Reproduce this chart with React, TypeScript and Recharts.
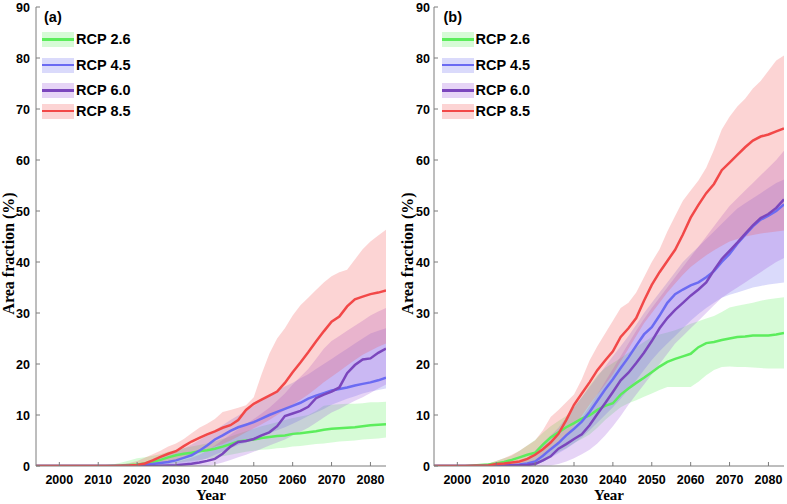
import React from "react";
import { ComposedChart, Area, Line, XAxis, YAxis } from "recharts";

// x positions shared by every series (years)
const years = [
  1994, 2002, 2008, 2010, 2012, 2014, 2016, 2018, 2020, 2022,
  2024, 2026, 2028, 2030, 2032, 2034, 2036, 2038, 2040, 2042,
  2044, 2046, 2048, 2050, 2052, 2054, 2056, 2058, 2060, 2062,
  2064, 2066, 2068, 2070, 2072, 2074, 2076, 2078, 2080, 2082,
  2084,
];
const yearTicks = [2000, 2010, 2020, 2030, 2040, 2050, 2060, 2070, 2080];
const fracTicks = [0, 10, 20, 30, 40, 50, 60, 70, 80, 90];

// ---- panel (a) ----
const a26 = [0, 0, 0, 0, 0, 0.05, 0.1, 0.2, 0.3, 0.5, 0.8, 1.2, 1.7, 2.1, 2.4, 2.6, 2.9, 3.1, 3.4, 3.8, 4.3, 4.8, 5.0, 5.2, 5.5, 5.7, 5.9, 6.0, 6.3, 6.4, 6.6, 6.8, 7.1, 7.3, 7.4, 7.5, 7.6, 7.8, 8.0, 8.1, 8.2];
const a26Lo = [0, 0, 0, 0, 0, 0, 0, 0, 0, 0, 0.1, 0.2, 0.4, 0.6, 0.8, 1.0, 1.2, 1.4, 1.6, 1.9, 2.2, 2.5, 2.8, 3.0, 3.2, 3.3, 3.5, 3.6, 3.8, 3.9, 4.1, 4.3, 4.4, 4.6, 4.8, 4.9, 5.0, 5.2, 5.3, 5.4, 5.6];
const a26Hi = [0, 0, 0, 0.1, 0.2, 0.35, 0.7, 1.1, 1.5, 1.7, 2.0, 2.3, 2.8, 3.2, 3.5, 3.8, 4.1, 4.4, 4.8, 5.3, 5.8, 6.3, 6.8, 7.3, 7.8, 8.2, 8.6, 9.0, 9.4, 9.7, 10.0, 10.8, 11.8, 12.0, 12.1, 12.2, 12.2, 12.3, 12.5, 12.5, 12.6];

const a45 = [0, 0, 0, 0, 0, 0, 0, 0.05, 0.1, 0.2, 0.4, 0.6, 0.8, 1.1, 1.6, 2.1, 3.0, 4.0, 5.2, 6.0, 6.9, 7.6, 8.1, 8.6, 9.3, 10.0, 10.6, 11.2, 11.8, 12.4, 13.2, 13.8, 14.3, 14.8, 15.1, 15.4, 15.8, 16.1, 16.4, 16.8, 17.3];
const a45Lo = [0, 0, 0, 0, 0, 0, 0, 0, 0, 0, 0, 0, 0.05, 0.2, 0.4, 0.6, 1.0, 1.5, 2.2, 2.8, 3.5, 4.1, 4.6, 5.2, 5.8, 6.4, 7.0, 7.6, 8.3, 9.0, 9.8, 10.5, 11.2, 12.0, 12.6, 13.2, 13.7, 14.2, 14.6, 14.9, 15.2];
const a45Hi = [0, 0, 0, 0, 0, 0.05, 0.1, 0.2, 0.3, 0.7, 1.2, 1.7, 2.2, 2.8, 3.5, 4.2, 5.1, 6.0, 7.0, 8.0, 9.0, 9.9, 10.8, 11.8, 12.8, 13.8, 14.8, 15.6, 16.3, 17.2, 18.0, 19.0, 20.0, 21.0, 22.0, 23.0, 24.0, 25.0, 26.0, 26.5, 27.0];

const a60 = [0, 0, 0, 0, 0, 0, 0, 0, 0, 0, 0, 0.05, 0.1, 0.15, 0.3, 0.45, 0.7, 1.0, 1.4, 2.4, 3.8, 4.7, 4.9, 5.3, 6.0, 6.6, 7.8, 9.8, 10.3, 10.8, 11.6, 13.3, 14.0, 14.6, 15.4, 18.2, 19.8, 20.9, 21.1, 22.2, 23.0];
const a60Lo = [0, 0, 0, 0, 0, 0, 0, 0, 0, 0, 0, 0, 0, 0, 0, 0, 0, 0, 0.3, 0.7, 1.2, 1.7, 2.2, 2.8, 3.4, 4.0, 4.6, 5.2, 6.0, 6.7, 7.5, 8.5, 9.5, 10.5, 11.2, 12.0, 12.8, 13.5, 14.3, 15.2, 16.0];
const a60Hi = [0, 0, 0, 0, 0, 0, 0, 0, 0, 0.1, 0.2, 0.35, 0.55, 0.8, 1.2, 1.6, 2.2, 3.0, 4.0, 5.1, 6.2, 7.2, 8.2, 9.2, 10.3, 11.4, 12.8, 14.2, 16.0, 17.5, 19.0, 21.0, 23.0, 24.5, 25.5, 26.5, 27.5, 28.5, 29.5, 30.3, 31.0];

const a85 = [0, 0, 0, 0, 0, 0, 0.05, 0.1, 0.2, 0.5, 1.1, 1.8, 2.4, 2.9, 3.9, 4.8, 5.5, 6.2, 6.8, 7.5, 8.0, 9.0, 11.0, 12.2, 13.0, 13.8, 14.6, 16.3, 18.4, 20.3, 22.3, 24.4, 26.4, 28.3, 29.3, 31.3, 32.7, 33.2, 33.7, 34.0, 34.4];
const a85Lo = [0, 0, 0, 0, 0, 0, 0, 0, 0, 0.1, 0.3, 0.6, 0.9, 1.2, 1.6, 2.0, 2.6, 3.2, 3.8, 4.3, 5.0, 5.8, 6.6, 7.4, 8.2, 9.0, 10.0, 11.0, 12.0, 13.0, 14.0, 15.2, 16.4, 17.5, 18.6, 19.7, 20.8, 21.8, 22.6, 23.4, 24.0];
const a85Hi = [0, 0, 0, 0.05, 0.1, 0.2, 0.35, 0.6, 1.0, 1.6, 2.3, 3.0, 3.8, 4.4, 5.3, 6.4, 7.5, 8.3, 9.2, 10.6, 11.0, 11.4, 11.9, 13.5, 18.0, 22.0, 25.0, 27.0, 29.5, 31.5, 33.0, 34.5, 36.0, 37.2, 38.0, 38.5, 40.5, 42.5, 44.0, 45.2, 46.3];

// ---- panel (b) ----
const b26 = [0, 0, 0.3, 0.5, 0.8, 1.2, 1.7, 2.2, 2.6, 4.2, 5.6, 6.6, 7.6, 8.4, 9.3, 9.9, 11.0, 11.8, 12.3, 14.0, 15.2, 16.3, 17.3, 18.4, 19.5, 20.4, 21.0, 21.5, 22.0, 23.3, 24.1, 24.3, 24.7, 25.0, 25.3, 25.4, 25.6, 25.6, 25.6, 25.8, 26.1];
const b26Lo = [0, 0, 0, 0, 0, 0, 0, 0.1, 0.3, 0.8, 1.8, 2.8, 3.5, 4.5, 5.3, 6.2, 7.5, 9.0, 10.3, 11.5, 12.3, 12.9, 13.6, 14.2, 14.9, 15.5, 15.5, 15.5, 15.5, 16.5, 17.8, 18.8, 19.4, 19.5, 19.4, 19.4, 19.3, 19.2, 19.1, 19.1, 19.1];
const b26Hi = [0, 0, 0.5, 1.0, 1.5, 2.0, 3.0, 4.0, 5.1, 6.5, 7.8, 8.8, 9.8, 11.5, 13.5, 15.8, 17.8, 19.2, 20.2, 21.2, 22.2, 23.3, 24.3, 25.3, 25.8, 26.2, 26.6, 27.2, 27.9, 28.4, 28.9, 29.4, 30.2, 31.1, 31.4, 31.7, 32.0, 32.4, 32.7, 32.9, 33.1];

const b45 = [0, 0, 0, 0.05, 0.1, 0.2, 0.3, 0.5, 0.9, 2.0, 3.3, 4.5, 6.0, 7.3, 8.7, 10.6, 12.8, 15.0, 17.0, 19.2, 21.3, 23.6, 25.8, 27.2, 29.5, 32.0, 33.7, 34.6, 35.4, 36.0, 37.0, 38.2, 40.0, 41.6, 43.6, 45.3, 47.0, 48.3, 49.1, 50.0, 51.3];
const b45Lo = [0, 0, 0, 0, 0, 0, 0, 0, 0.2, 0.8, 1.6, 2.5, 3.4, 4.4, 5.6, 7.0, 8.5, 10.0, 11.5, 13.2, 15.0, 16.8, 18.8, 20.8, 22.5, 24.0, 25.5, 27.0, 28.5, 29.8, 31.0, 32.0, 33.0, 33.6, 34.0, 34.5, 35.0, 35.3, 35.6, 35.8, 36.0];
const b45Hi = [0, 0, 0, 0.1, 0.2, 0.3, 0.5, 1.5, 3.0, 4.5, 6.0, 7.5, 9.5, 11.5, 13.5, 15.5, 17.5, 19.5, 21.5, 23.5, 25.5, 27.7, 30.0, 32.0, 34.0, 36.0, 38.0, 40.0, 41.5, 43.0, 44.5, 46.0, 47.5, 49.0, 50.5, 51.5, 52.5, 53.5, 54.5, 55.5, 56.2];

const b60 = [0, 0, 0, 0, 0.05, 0.1, 0.15, 0.2, 0.4, 1.1, 1.9, 3.4, 4.3, 5.3, 6.2, 8.0, 10.2, 12.3, 14.5, 16.8, 18.3, 20.2, 22.2, 24.5, 27.0, 29.0, 30.6, 32.0, 33.4, 34.6, 36.0, 38.4, 40.6, 42.2, 43.8, 45.5, 47.2, 48.6, 49.4, 50.6, 52.3];
const b60Lo = [0, 0, 0, 0, 0, 0, 0, 0, 0, 0, 0.1, 0.4, 0.9, 1.5, 2.3, 3.2, 4.4, 6.0, 7.8, 9.8, 12.0, 14.0, 16.0, 18.0, 20.0, 22.0, 24.0, 25.5, 27.0, 28.5, 30.0, 31.5, 33.0, 34.0, 35.0, 36.0, 37.0, 38.0, 39.0, 40.0, 40.8];
const b60Hi = [0, 0, 0, 0, 0, 0, 0.05, 0.2, 0.8, 1.8, 3.0, 4.4, 5.8, 7.5, 9.5, 11.7, 14.0, 16.5, 19.0, 21.5, 24.0, 26.5, 28.8, 31.0, 33.0, 35.0, 37.0, 39.0, 41.0, 43.0, 45.0, 47.0, 49.0, 51.0, 52.5, 54.0, 55.5, 57.0, 58.5, 60.0, 61.8];

const b85 = [0, 0, 0.1, 0.4, 0.5, 0.7, 0.9, 1.4, 2.2, 3.3, 4.6, 6.3, 9.0, 12.0, 14.2, 16.4, 18.8, 20.7, 22.5, 25.3, 27.0, 29.0, 32.4, 35.5, 38.0, 40.2, 42.4, 45.4, 48.7, 51.2, 53.5, 55.3, 58.0, 59.5, 61.0, 62.5, 63.8, 64.6, 65.0, 65.6, 66.2];
const b85Lo = [0, 0, 0, 0, 0, 0, 0, 0.3, 1.0, 2.0, 3.0, 4.3, 6.0, 7.8, 9.8, 12.0, 14.0, 16.0, 18.0, 20.5, 23.0, 25.5, 28.0, 30.0, 32.0, 34.0, 35.8, 37.5, 39.0, 40.2, 41.3, 42.3, 43.2, 44.0, 44.5, 45.0, 45.3, 45.6, 45.8, 46.0, 46.2];
const b85Hi = [0, 0, 0.5, 1.0, 1.5, 2.2, 3.0, 4.0, 5.0, 7.0, 9.6, 11.0, 12.5, 14.0, 17.0, 20.7, 23.5, 26.0, 28.5, 31.0, 32.0, 34.0, 37.0, 40.0, 42.5, 46.0, 49.0, 52.0, 54.0, 56.0, 58.5, 62.0, 66.0, 68.5, 70.5, 72.0, 74.0, 75.5, 77.5, 79.5, 80.5];

const scenarios = [
  { key: "r26", name: "RCP 2.6", line: "#5ced5c", band: "#44ee44", bandOpacity: 0.22 },
  { key: "r45", name: "RCP 4.5", line: "#6b6bf2", band: "#5555ee", bandOpacity: 0.22 },
  { key: "r60", name: "RCP 6.0", line: "#7b46bd", band: "#9a55dd", bandOpacity: 0.25 },
  { key: "r85", name: "RCP 8.5", line: "#f24848", band: "#f25555", bandOpacity: 0.25 },
];

const buildRows = (src: Record<string, number[][]>) =>
  years.map((year, i) => {
    const row: any = { year };
    scenarios.forEach((s) => {
      const [mean, lo, hi] = src[s.key];
      row[s.key] = mean[i];
      row[s.key + "Band"] = [lo[i], hi[i]];
    });
    return row;
  });

const panels = [
  {
    tag: "(a)",
    left: 0,
    width: 393,
    marginRight: 7,
    yTitleX: 8,
    tickGap: 6,
    legendX: 42,
    rows: buildRows({
      r26: [a26, a26Lo, a26Hi],
      r45: [a45, a45Lo, a45Hi],
      r60: [a60, a60Lo, a60Hi],
      r85: [a85, a85Lo, a85Hi],
    }),
  },
  {
    tag: "(b)",
    left: 398,
    width: 389,
    marginRight: 3,
    yTitleX: 9,
    tickGap: 4,
    legendX: 43.5,
    rows: buildRows({
      r26: [b26, b26Lo, b26Hi],
      r45: [b45, b45Lo, b45Hi],
      r60: [b60, b60Lo, b60Hi],
      r85: [b85, b85Lo, b85Hi],
    }),
  },
];

const AXIS = "#7c7c7c";
const sans = '"Liberation Sans", Arial, sans-serif';
const serif = '"Liberation Serif", "Times New Roman", serif';
const legendRowsY = [39.3, 65, 90.3, 111];

const BottomTick = ({ x, y, payload }: any) => (
  <g>
    <line x1={x} y1={y} x2={x} y2={y - 4} stroke={AXIS} />
    <text x={x} y={y + 17.5} textAnchor="middle" fill="#000"
      style={{ fontFamily: sans, fontWeight: 700, fontSize: 12.5 }}>
      {payload.value}
    </text>
  </g>
);

const LeftTick = ({ x, y, payload, gap }: any) => (
  <g>
    <line x1={x} y1={y} x2={x + 4} y2={y} stroke={AXIS} />
    <text x={x - gap} y={y} dy="0.36em" textAnchor="end" fill="#000"
      style={{ fontFamily: sans, fontWeight: 700, fontSize: 12.5 }}>
      {payload.value}
    </text>
  </g>
);

const RightTick = ({ x, y }: any) => (
  <line x1={x - 4} y1={y} x2={x} y2={y} stroke={AXIS} />
);

const XTitle = ({ viewBox }: any) => (
  <text x={viewBox.x + viewBox.width / 2} y={viewBox.y + 34} textAnchor="middle" fill="#000"
    style={{ fontFamily: serif, fontWeight: 700, fontSize: 15 }}>
    Year
  </text>
);

const YTitle = ({ viewBox, cx }: any) => {
  const cy = viewBox.y + viewBox.height / 2 + 17;
  return (
    <text x={cx} y={cy} transform={`rotate(-90, ${cx}, ${cy})`} textAnchor="middle"
      dominantBaseline="central" fill="#000"
      style={{ fontFamily: serif, fontWeight: 700, fontSize: 16 }}>
      Area fraction (%)
    </text>
  );
};

const Panel = ({ p }: { p: (typeof panels)[number] }) => (
  <div style={{ position: "absolute", left: p.left, top: 0, width: p.width, height: 504 }}>
    <ComposedChart width={p.width} height={504} data={p.rows}
      margin={{ top: 7, right: p.marginRight, bottom: 0, left: 0 }}>
      <XAxis dataKey="year" type="number" domain={[1994, 2084]} allowDataOverflow
        ticks={yearTicks} interval={0} height={38} tickSize={0} tickMargin={0}
        axisLine={{ stroke: AXIS }} tickLine={false} tick={<BottomTick />}
        label={<XTitle />} />
      <XAxis xAxisId="top" orientation="top" dataKey="year" type="number"
        domain={[1994, 2084]} allowDataOverflow height={0} tick={false} tickLine={false}
        axisLine={{ stroke: "#555" }} />
      <YAxis type="number" domain={[0, 90]} allowDataOverflow ticks={fracTicks} interval={0}
        width={36} tickSize={0} tickMargin={0} axisLine={{ stroke: AXIS }} tickLine={false}
        tick={<LeftTick gap={p.tickGap} />} label={<YTitle cx={p.yTitleX} />} />
      <YAxis yAxisId="right" orientation="right" type="number" domain={[0, 90]} allowDataOverflow
        ticks={fracTicks} interval={0} width={0} tickSize={0} tickMargin={0}
        axisLine={{ stroke: AXIS }} tickLine={false} tick={<RightTick />} />
      {scenarios.map((s) => (
        <Area key={s.key + "Band"} type="linear" dataKey={s.key + "Band"} stroke="none"
          fill={s.band} fillOpacity={s.bandOpacity} isAnimationActive={false} activeDot={false} />
      ))}
      {scenarios.map((s) => (
        <Line key={s.key} type="linear" dataKey={s.key} stroke={s.line} strokeWidth={2.5}
          dot={false} activeDot={false} isAnimationActive={false} />
      ))}
    </ComposedChart>
    <div style={{ position: "absolute", left: p.legendX + 2, top: 8, fontFamily: sans,
      fontWeight: 700, fontSize: 14.5, lineHeight: "18px" }}>
      {p.tag}
    </div>
    {scenarios.map((s, i) => (
      <div key={s.key} style={{ position: "absolute", left: p.legendX, top: legendRowsY[i] - 8,
        height: 16, display: "flex", alignItems: "center" }}>
        <div style={{ position: "relative", width: 32, height: 15 }}>
          <div style={{ position: "absolute", inset: 0, background: s.band, opacity: s.bandOpacity }} />
          <div style={{ position: "absolute", left: 0, right: 0, top: 6.25, height: 2.5, background: s.line }} />
        </div>
        <span style={{ marginLeft: 2, fontFamily: sans, fontWeight: 700, fontSize: 14.5, color: "#000" }}>
          {s.name}
        </span>
      </div>
    ))}
  </div>
);

export default function App() {
  return (
    <div style={{ position: "absolute", left: 0, top: 0, width: 787, height: 504, background: "#fff" }}>
      {panels.map((p) => (
        <Panel key={p.tag} p={p} />
      ))}
    </div>
  );
}
